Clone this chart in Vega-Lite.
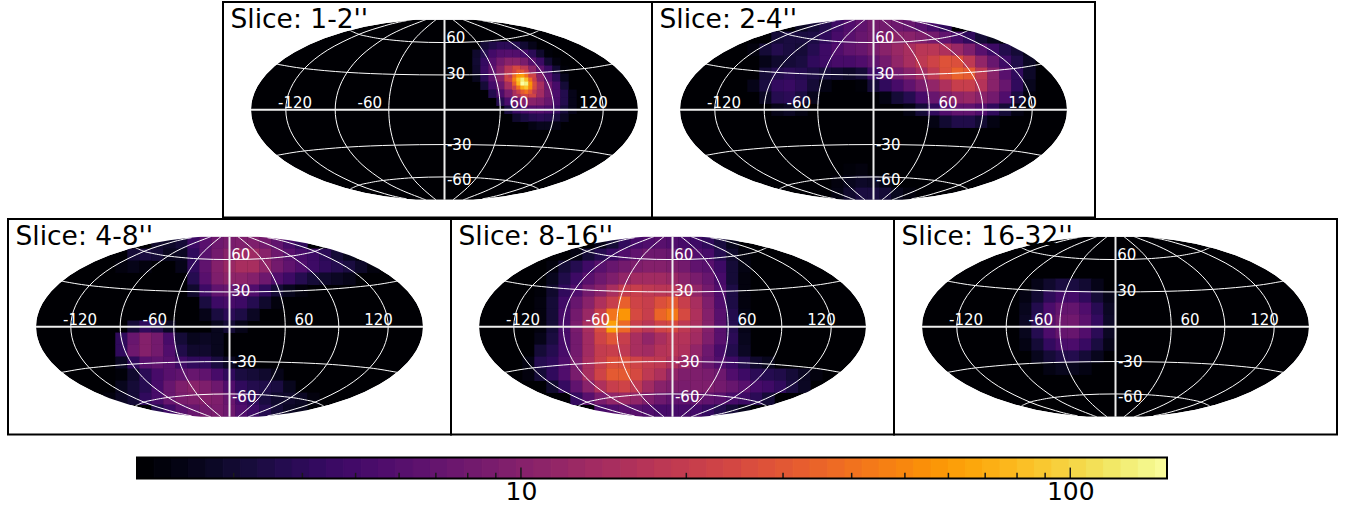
{"$schema":"https://vega.github.io/schema/vega-lite/v6.json","padding":{"left":7,"top":1,"right":0,"bottom":0},"background":"white","config":{"view":{"stroke":null}},
"datasets":{
"outline":[{"x":-219,"t":0,"b":0,"u":105,"l":-105},{"x":-193.5,"t":0,"b":0,"u":105,"l":-105},{"x":-193,"t":6.6,"b":-6.6,"u":105,"l":-105},{"x":-192,"t":11.3,"b":-11.3,"u":105,"l":-105},{"x":-190,"t":17.2,"b":-17.2,"u":105,"l":-105},{"x":-187,"t":23.4,"b":-23.4,"u":105,"l":-105},{"x":-183,"t":29.6,"b":-29.6,"u":105,"l":-105},{"x":-178,"t":35.7,"b":-35.7,"u":105,"l":-105},{"x":-170,"t":43.5,"b":-43.5,"u":105,"l":-105},{"x":-160,"t":51.2,"b":-51.2,"u":105,"l":-105},{"x":-150,"t":57.5,"b":-57.5,"u":105,"l":-105},{"x":-135,"t":65.2,"b":-65.2,"u":105,"l":-105},{"x":-120,"t":71.4,"b":-71.4,"u":105,"l":-105},{"x":-100,"t":77.9,"b":-77.9,"u":105,"l":-105},{"x":-80,"t":82.9,"b":-82.9,"u":105,"l":-105},{"x":-60,"t":86.5,"b":-86.5,"u":105,"l":-105},{"x":-40,"t":89,"b":-89,"u":105,"l":-105},{"x":-28.6,"t":90,"b":-90,"u":105,"l":-105},{"x":28.6,"t":90,"b":-90,"u":105,"l":-105},{"x":40,"t":89,"b":-89,"u":105,"l":-105},{"x":60,"t":86.5,"b":-86.5,"u":105,"l":-105},{"x":80,"t":82.9,"b":-82.9,"u":105,"l":-105},{"x":100,"t":77.9,"b":-77.9,"u":105,"l":-105},{"x":120,"t":71.4,"b":-71.4,"u":105,"l":-105},{"x":135,"t":65.2,"b":-65.2,"u":105,"l":-105},{"x":150,"t":57.5,"b":-57.5,"u":105,"l":-105},{"x":160,"t":51.2,"b":-51.2,"u":105,"l":-105},{"x":170,"t":43.5,"b":-43.5,"u":105,"l":-105},{"x":178,"t":35.7,"b":-35.7,"u":105,"l":-105},{"x":183,"t":29.6,"b":-29.6,"u":105,"l":-105},{"x":187,"t":23.4,"b":-23.4,"u":105,"l":-105},{"x":190,"t":17.2,"b":-17.2,"u":105,"l":-105},{"x":192,"t":11.3,"b":-11.3,"u":105,"l":-105},{"x":193,"t":6.6,"b":-6.6,"u":105,"l":-105},{"x":193.5,"t":0,"b":0,"u":105,"l":-105},{"x":219,"t":0,"b":0,"u":105,"l":-105}],
"grid":[{"g":"a","x":8.5,"y":90},{"g":"a","x":12.5,"y":86.9},{"g":"a","x":23,"y":77.8},{"g":"a","x":32,"y":68},{"g":"a","x":42.5,"y":52.2},{"g":"a","x":49.9,"y":35.4},{"g":"a","x":54.3,"y":17.9},{"g":"a","x":55.7,"y":0},{"g":"a","x":54.3,"y":-17.9},{"g":"a","x":49.9,"y":-35.4},{"g":"a","x":42.5,"y":-52.2},{"g":"a","x":32,"y":-68},{"g":"a","x":23,"y":-77.8},{"g":"a","x":12.5,"y":-86.9},{"g":"a","x":8.5,"y":-90},
{"g":"b","x":-8.5,"y":90},{"g":"b","x":-12.5,"y":86.9},{"g":"b","x":-23,"y":77.8},{"g":"b","x":-32,"y":68},{"g":"b","x":-42.5,"y":52.2},{"g":"b","x":-49.9,"y":35.4},{"g":"b","x":-54.3,"y":17.9},{"g":"b","x":-55.7,"y":0},{"g":"b","x":-54.3,"y":-17.9},{"g":"b","x":-49.9,"y":-35.4},{"g":"b","x":-42.5,"y":-52.2},{"g":"b","x":-32,"y":-68},{"g":"b","x":-23,"y":-77.8},{"g":"b","x":-12.5,"y":-86.9},{"g":"b","x":-8.5,"y":-90},
{"g":"c","x":18.7,"y":90},{"g":"c","x":23.4,"y":88.3},{"g":"c","x":43.8,"y":80.1},{"g":"c","x":61.4,"y":70.7},{"g":"c","x":82.5,"y":54.8},{"g":"c","x":97.4,"y":37.4},{"g":"c","x":106.3,"y":19},{"g":"c","x":109.3,"y":0},{"g":"c","x":106.3,"y":-19},{"g":"c","x":97.4,"y":-37.4},{"g":"c","x":82.5,"y":-54.8},{"g":"c","x":61.4,"y":-70.7},{"g":"c","x":43.8,"y":-80.1},{"g":"c","x":23.4,"y":-88.3},{"g":"c","x":18.7,"y":-90},
{"g":"d","x":-18.7,"y":90},{"g":"d","x":-23.4,"y":88.3},{"g":"d","x":-43.8,"y":80.1},{"g":"d","x":-61.4,"y":70.7},{"g":"d","x":-82.5,"y":54.8},{"g":"d","x":-97.4,"y":37.4},{"g":"d","x":-106.3,"y":19},{"g":"d","x":-109.3,"y":0},{"g":"d","x":-106.3,"y":-19},{"g":"d","x":-97.4,"y":-37.4},{"g":"d","x":-82.5,"y":-54.8},{"g":"d","x":-61.4,"y":-70.7},{"g":"d","x":-43.8,"y":-80.1},{"g":"d","x":-23.4,"y":-88.3},{"g":"d","x":-18.7,"y":-90},
{"g":"e","x":38,"y":89},{"g":"e","x":46.1,"y":87.5},{"g":"e","x":60,"y":83.9},{"g":"e","x":85.5,"y":75.4},{"g":"e","x":117.1,"y":59.6},{"g":"e","x":140.1,"y":41.2},{"g":"e","x":154,"y":21},{"g":"e","x":158.7,"y":0},{"g":"e","x":154,"y":-21},{"g":"e","x":140.1,"y":-41.2},{"g":"e","x":117.1,"y":-59.6},{"g":"e","x":85.5,"y":-75.4},{"g":"e","x":60,"y":-83.9},{"g":"e","x":46.1,"y":-87.5},{"g":"e","x":38,"y":-89},
{"g":"f","x":-38,"y":89},{"g":"f","x":-46.1,"y":87.5},{"g":"f","x":-60,"y":83.9},{"g":"f","x":-85.5,"y":75.4},{"g":"f","x":-117.1,"y":59.6},{"g":"f","x":-140.1,"y":41.2},{"g":"f","x":-154,"y":21},{"g":"f","x":-158.7,"y":0},{"g":"f","x":-154,"y":-21},{"g":"f","x":-140.1,"y":-41.2},{"g":"f","x":-117.1,"y":-59.6},{"g":"f","x":-85.5,"y":-75.4},{"g":"f","x":-60,"y":-83.9},{"g":"f","x":-46.1,"y":-87.5},{"g":"f","x":-38,"y":-89},
{"g":"p","x":-168,"y":45.8},{"g":"p","x":-164.4,"y":45},{"g":"p","x":-140.1,"y":41.2},{"g":"p","x":-97.4,"y":37.4},{"g":"p","x":-49.9,"y":35.4},{"g":"p","x":0,"y":34.8},{"g":"p","x":49.9,"y":35.4},{"g":"p","x":97.4,"y":37.4},{"g":"p","x":140.1,"y":41.2},{"g":"p","x":164.4,"y":45},{"g":"p","x":168,"y":45.8},
{"g":"q","x":-168,"y":-45.8},{"g":"q","x":-164.4,"y":-45},{"g":"q","x":-140.1,"y":-41.2},{"g":"q","x":-97.4,"y":-37.4},{"g":"q","x":-49.9,"y":-35.4},{"g":"q","x":0,"y":-34.8},{"g":"q","x":49.9,"y":-35.4},{"g":"q","x":97.4,"y":-37.4},{"g":"q","x":140.1,"y":-41.2},{"g":"q","x":164.4,"y":-45},{"g":"q","x":168,"y":-45.8},
{"g":"r","x":-94,"y":79},{"g":"r","x":-85.5,"y":75.4},{"g":"r","x":-78.2,"y":73.6},{"g":"r","x":-61.4,"y":70.7},{"g":"r","x":-32,"y":68},{"g":"r","x":0,"y":67.2},{"g":"r","x":32,"y":68},{"g":"r","x":61.4,"y":70.7},{"g":"r","x":78.2,"y":73.6},{"g":"r","x":85.5,"y":75.4},{"g":"r","x":94,"y":79},
{"g":"s","x":-94,"y":-79},{"g":"s","x":-85.5,"y":-75.4},{"g":"s","x":-78.2,"y":-73.6},{"g":"s","x":-61.4,"y":-70.7},{"g":"s","x":-32,"y":-68},{"g":"s","x":0,"y":-67.2},{"g":"s","x":32,"y":-68},{"g":"s","x":61.4,"y":-70.7},{"g":"s","x":78.2,"y":-73.6},{"g":"s","x":85.5,"y":-75.4},{"g":"s","x":94,"y":-79}],
"axes":[{"g":"eq","x":-193.5,"y":0},{"g":"eq","x":193.5,"y":0},{"g":"cm","x":0,"y":-90},{"g":"cm","x":0,"y":90}],
"labels":[{"x":-149.5,"y":6.3,"t":"-120"},{"x":-74.7,"y":6.3,"t":"-60"},{"x":74.5,"y":6.3,"t":"60"},{"x":149,"y":6.3,"t":"120"},{"x":11.3,"y":71.5,"t":"60"},{"x":11.3,"y":35.7,"t":"30"},{"x":14.7,"y":-35,"t":"-30"},{"x":14.7,"y":-70.3,"t":"-60"}],
"a":[{"x":40,"y":64,"v":3},{"x":48,"y":64,"v":3.4},{"x":56,"y":64,"v":3.8},{"x":64,"y":64,"v":3.8},{"x":72,"y":64,"v":3.5},{"x":80,"y":64,"v":2.9},{"x":88,"y":64,"v":2.4},
{"x":32,"y":56,"v":2.8},{"x":40,"y":56,"v":3.6},{"x":48,"y":56,"v":4.8},{"x":56,"y":56,"v":5.6},{"x":64,"y":56,"v":5.8},{"x":72,"y":56,"v":5.6},{"x":80,"y":56,"v":4.9},{"x":88,"y":56,"v":3.8},{"x":96,"y":56,"v":2.8},{"x":104,"y":56,"v":2.1},
{"x":32,"y":48,"v":2.9},{"x":40,"y":48,"v":4.2},{"x":48,"y":48,"v":5.8},{"x":56,"y":48,"v":8},{"x":64,"y":48,"v":10},{"x":72,"y":48,"v":10},{"x":80,"y":48,"v":8.4},{"x":88,"y":48,"v":5.9},{"x":96,"y":48,"v":4.4},{"x":104,"y":48,"v":2.9},{"x":112,"y":48,"v":2.2},
{"x":32,"y":40,"v":2.8},{"x":40,"y":40,"v":4.4},{"x":48,"y":40,"v":6.4},{"x":56,"y":40,"v":10},{"x":64,"y":40,"v":17},{"x":72,"y":40,"v":24},{"x":80,"y":40,"v":18},{"x":88,"y":40,"v":10.5},{"x":96,"y":40,"v":6.4},{"x":104,"y":40,"v":4.4},{"x":112,"y":40,"v":2.9},{"x":120,"y":40,"v":2.1},
{"x":32,"y":32,"v":2.5},{"x":40,"y":32,"v":3.8},{"x":48,"y":32,"v":6},{"x":56,"y":32,"v":10},{"x":64,"y":32,"v":22},{"x":72,"y":32,"v":60},{"x":80,"y":32,"v":70},{"x":88,"y":32,"v":22},{"x":96,"y":32,"v":10},{"x":104,"y":32,"v":5.8},{"x":112,"y":32,"v":3.8},{"x":120,"y":32,"v":2.5},
{"x":40,"y":24,"v":3},{"x":48,"y":24,"v":4.8},{"x":56,"y":24,"v":7.5},{"x":64,"y":24,"v":14},{"x":72,"y":24,"v":40},{"x":80,"y":24,"v":80},{"x":88,"y":24,"v":40},{"x":96,"y":24,"v":14},{"x":104,"y":24,"v":7.5},{"x":112,"y":24,"v":5},{"x":120,"y":24,"v":3},
{"x":48,"y":16,"v":3.5},{"x":56,"y":16,"v":5.3},{"x":64,"y":16,"v":8.4},{"x":72,"y":16,"v":14},{"x":80,"y":16,"v":22},{"x":88,"y":16,"v":22},{"x":96,"y":16,"v":13},{"x":104,"y":16,"v":8},{"x":112,"y":16,"v":5.2},{"x":120,"y":16,"v":3.5},{"x":128,"y":16,"v":2.4},
{"x":56,"y":8,"v":3.6},{"x":64,"y":8,"v":5.2},{"x":72,"y":8,"v":7},{"x":80,"y":8,"v":9.5},{"x":88,"y":8,"v":10},{"x":96,"y":8,"v":9},{"x":104,"y":8,"v":7},{"x":112,"y":8,"v":5},{"x":120,"y":8,"v":3.5},{"x":128,"y":8,"v":2.4},
{"x":64,"y":0,"v":3.2},{"x":72,"y":0,"v":4.4},{"x":80,"y":0,"v":5.2},{"x":88,"y":0,"v":5.8},{"x":96,"y":0,"v":5.8},{"x":104,"y":0,"v":5.2},{"x":112,"y":0,"v":4.2},{"x":120,"y":0,"v":3.1},{"x":128,"y":0,"v":2.4},
{"x":72,"y":-8,"v":2.8},{"x":80,"y":-8,"v":3.2},{"x":88,"y":-8,"v":3.6},{"x":96,"y":-8,"v":3.8},{"x":104,"y":-8,"v":3.6},{"x":112,"y":-8,"v":3.2},{"x":120,"y":-8,"v":2.6},
{"x":88,"y":-16,"v":2.3},{"x":96,"y":-16,"v":2.5},{"x":104,"y":-16,"v":2.5},{"x":112,"y":-16,"v":2.3}],
"a2":[{"x":70,"y":38,"v":22},{"x":74,"y":38,"v":30},{"x":78,"y":38,"v":28},{"x":82,"y":38,"v":20},
{"x":66,"y":34,"v":18},{"x":70,"y":34,"v":35},{"x":74,"y":34,"v":55},{"x":78,"y":34,"v":60},{"x":82,"y":34,"v":40},{"x":86,"y":34,"v":22},
{"x":66,"y":30,"v":22},{"x":70,"y":30,"v":45},{"x":74,"y":30,"v":85},{"x":78,"y":30,"v":125},{"x":82,"y":30,"v":80},{"x":86,"y":30,"v":38},{"x":90,"y":30,"v":20},
{"x":70,"y":26,"v":32},{"x":74,"y":26,"v":75},{"x":78,"y":26,"v":150},{"x":82,"y":26,"v":130},{"x":86,"y":26,"v":55},{"x":90,"y":26,"v":25},
{"x":70,"y":22,"v":20},{"x":74,"y":22,"v":38},{"x":78,"y":22,"v":70},{"x":82,"y":22,"v":85},{"x":86,"y":22,"v":50},{"x":90,"y":22,"v":24},
{"x":74,"y":18,"v":20},{"x":78,"y":18,"v":30},{"x":82,"y":18,"v":38},{"x":86,"y":18,"v":28},{"x":90,"y":18,"v":18}],
"b":[{"x":-72,"y":84,"v":2.6},{"x":-60,"y":84,"v":3},{"x":-48,"y":84,"v":3.5},{"x":-36,"y":84,"v":4.5},{"x":-24,"y":84,"v":5.5},{"x":-12,"y":84,"v":6.5},{"x":0,"y":84,"v":8},{"x":12,"y":84,"v":8},{"x":24,"y":84,"v":7.5},{"x":36,"y":84,"v":7},{"x":48,"y":84,"v":6},{"x":60,"y":84,"v":5},{"x":72,"y":84,"v":4},
{"x":-96,"y":72,"v":3},{"x":-84,"y":72,"v":3.2},{"x":-72,"y":72,"v":3.2},{"x":-60,"y":72,"v":3.3},{"x":-48,"y":72,"v":4},{"x":-36,"y":72,"v":5},{"x":-24,"y":72,"v":6},{"x":-12,"y":72,"v":7},{"x":0,"y":72,"v":8},{"x":12,"y":72,"v":9},{"x":24,"y":72,"v":10},{"x":36,"y":72,"v":10},{"x":48,"y":72,"v":9},{"x":60,"y":72,"v":8},{"x":72,"y":72,"v":6.5},{"x":84,"y":72,"v":5},{"x":96,"y":72,"v":4},{"x":108,"y":72,"v":3},{"x":120,"y":72,"v":2.5},
{"x":-120,"y":60,"v":2.2},{"x":-108,"y":60,"v":3},{"x":-96,"y":60,"v":3.5},{"x":-84,"y":60,"v":3.2},{"x":-72,"y":60,"v":3},{"x":-60,"y":60,"v":3.6},{"x":-48,"y":60,"v":4.5},{"x":-36,"y":60,"v":5.5},{"x":-24,"y":60,"v":6.5},{"x":-12,"y":60,"v":7},{"x":0,"y":60,"v":8.5},{"x":12,"y":60,"v":10},{"x":24,"y":60,"v":12},{"x":36,"y":60,"v":14},{"x":48,"y":60,"v":17},{"x":60,"y":60,"v":17},{"x":72,"y":60,"v":15},{"x":84,"y":60,"v":12},{"x":96,"y":60,"v":9},{"x":108,"y":60,"v":6},{"x":120,"y":60,"v":4.5},{"x":132,"y":60,"v":3.5},{"x":144,"y":60,"v":3},{"x":156,"y":60,"v":2.4},
{"x":-108,"y":48,"v":2.4},{"x":-96,"y":48,"v":2.8},{"x":-84,"y":48,"v":3},{"x":-72,"y":48,"v":3.2},{"x":-60,"y":48,"v":4},{"x":-48,"y":48,"v":4.5},{"x":-36,"y":48,"v":5},{"x":-24,"y":48,"v":5},{"x":-12,"y":48,"v":5.5},{"x":0,"y":48,"v":6.5},{"x":12,"y":48,"v":8},{"x":24,"y":48,"v":11},{"x":36,"y":48,"v":14},{"x":48,"y":48,"v":18},{"x":60,"y":48,"v":22},{"x":72,"y":48,"v":27},{"x":84,"y":48,"v":26},{"x":96,"y":48,"v":18},{"x":108,"y":48,"v":11},{"x":120,"y":48,"v":7},{"x":132,"y":48,"v":4.5},{"x":144,"y":48,"v":3.4},{"x":156,"y":48,"v":2.6},
{"x":-108,"y":36,"v":3},{"x":-96,"y":36,"v":3.5},{"x":-84,"y":36,"v":3.8},{"x":-72,"y":36,"v":3.6},{"x":-60,"y":36,"v":3.3},{"x":-48,"y":36,"v":3.1},{"x":-36,"y":36,"v":2.9},{"x":-24,"y":36,"v":2.7},{"x":-12,"y":36,"v":3},{"x":0,"y":36,"v":4.5},{"x":12,"y":36,"v":6},{"x":24,"y":36,"v":8},{"x":36,"y":36,"v":10},{"x":48,"y":36,"v":13},{"x":60,"y":36,"v":18},{"x":72,"y":36,"v":26},{"x":84,"y":36,"v":33},{"x":96,"y":36,"v":30},{"x":108,"y":36,"v":18},{"x":120,"y":36,"v":10},{"x":132,"y":36,"v":6},{"x":144,"y":36,"v":4},{"x":156,"y":36,"v":2.7},
{"x":-120,"y":24,"v":2.4},{"x":-108,"y":24,"v":3.2},{"x":-96,"y":24,"v":4.1},{"x":-84,"y":24,"v":4.3},{"x":-72,"y":24,"v":3.8},{"x":-60,"y":24,"v":3},{"x":-48,"y":24,"v":2.3},{"x":-12,"y":24,"v":2.1},{"x":0,"y":24,"v":3},{"x":12,"y":24,"v":4},{"x":24,"y":24,"v":5},{"x":36,"y":24,"v":6.5},{"x":48,"y":24,"v":8.5},{"x":60,"y":24,"v":11},{"x":72,"y":24,"v":15},{"x":84,"y":24,"v":20},{"x":96,"y":24,"v":20},{"x":108,"y":24,"v":16},{"x":120,"y":24,"v":10},{"x":132,"y":24,"v":7},{"x":144,"y":24,"v":4},{"x":156,"y":24,"v":2.5},
{"x":-108,"y":12,"v":2.6},{"x":-96,"y":12,"v":3.6},{"x":-84,"y":12,"v":3.8},{"x":-72,"y":12,"v":3.2},{"x":-60,"y":12,"v":2.5},{"x":12,"y":12,"v":2.3},{"x":24,"y":12,"v":3},{"x":36,"y":12,"v":3.6},{"x":48,"y":12,"v":5},{"x":60,"y":12,"v":7},{"x":72,"y":12,"v":9},{"x":84,"y":12,"v":11},{"x":96,"y":12,"v":12},{"x":108,"y":12,"v":10},{"x":120,"y":12,"v":8},{"x":132,"y":12,"v":5.5},{"x":144,"y":12,"v":3.2},{"x":156,"y":12,"v":2.2},
{"x":-96,"y":0,"v":2.4},{"x":-84,"y":0,"v":2.6},{"x":-72,"y":0,"v":2.3},{"x":36,"y":0,"v":2.3},{"x":48,"y":0,"v":3},{"x":60,"y":0,"v":4},{"x":72,"y":0,"v":5.5},{"x":84,"y":0,"v":6.5},{"x":96,"y":0,"v":6.5},{"x":108,"y":0,"v":5.5},{"x":120,"y":0,"v":4},{"x":132,"y":0,"v":3},{"x":144,"y":0,"v":2.3},
{"x":60,"y":-12,"v":2.3},{"x":72,"y":-12,"v":2.9},{"x":84,"y":-12,"v":3.4},{"x":96,"y":-12,"v":3.4},{"x":108,"y":-12,"v":2.9},{"x":120,"y":-12,"v":2.3},
{"x":-24,"y":-60,"v":2.1},{"x":-12,"y":-60,"v":2.2},{"x":-36,"y":-72,"v":2.2},{"x":-24,"y":-72,"v":2.5},{"x":-12,"y":-72,"v":2.7},{"x":0,"y":-72,"v":2.6},{"x":12,"y":-72,"v":2.3},{"x":-36,"y":-84,"v":2.3},{"x":-24,"y":-84,"v":2.8},{"x":-12,"y":-84,"v":3.2},{"x":0,"y":-84,"v":3.2},{"x":12,"y":-84,"v":3},{"x":24,"y":-84,"v":2.5},{"x":36,"y":-84,"v":2.2}],
"c":[{"x":-72,"y":84,"v":2.8},{"x":-60,"y":84,"v":2.7},{"x":-48,"y":84,"v":3},{"x":-36,"y":84,"v":4.5},{"x":-24,"y":84,"v":6},{"x":-12,"y":84,"v":7.5},{"x":0,"y":84,"v":8.5},{"x":12,"y":84,"v":9},{"x":24,"y":84,"v":9},{"x":36,"y":84,"v":8},{"x":48,"y":84,"v":6.5},{"x":60,"y":84,"v":5},{"x":72,"y":84,"v":4},
{"x":-96,"y":72,"v":3},{"x":-84,"y":72,"v":3.2},{"x":-72,"y":72,"v":3},{"x":-60,"y":72,"v":2.5},{"x":-48,"y":72,"v":2.6},{"x":-36,"y":72,"v":4},{"x":-24,"y":72,"v":6},{"x":-12,"y":72,"v":8},{"x":0,"y":72,"v":10},{"x":12,"y":72,"v":12.5},{"x":24,"y":72,"v":12.5},{"x":36,"y":72,"v":10},{"x":48,"y":72,"v":7.5},{"x":60,"y":72,"v":6},{"x":72,"y":72,"v":5},{"x":84,"y":72,"v":4.5},{"x":96,"y":72,"v":3.8},{"x":108,"y":72,"v":3},{"x":120,"y":72,"v":2.5},
{"x":-108,"y":60,"v":2.2},{"x":-96,"y":60,"v":2.4},{"x":-84,"y":60,"v":2.2},{"x":-48,"y":60,"v":2.4},{"x":-36,"y":60,"v":4},{"x":-24,"y":60,"v":6.5},{"x":-12,"y":60,"v":9.5},{"x":0,"y":60,"v":12},{"x":12,"y":60,"v":14},{"x":24,"y":60,"v":14},{"x":36,"y":60,"v":11},{"x":48,"y":60,"v":8},{"x":60,"y":60,"v":6.5},{"x":72,"y":60,"v":5.5},{"x":84,"y":60,"v":4.5},{"x":96,"y":60,"v":4},{"x":108,"y":60,"v":3.6},{"x":120,"y":60,"v":3.2},{"x":132,"y":60,"v":2.7},{"x":144,"y":60,"v":2.2},
{"x":-36,"y":48,"v":3.6},{"x":-24,"y":48,"v":6},{"x":-12,"y":48,"v":9},{"x":0,"y":48,"v":10.5},{"x":12,"y":48,"v":10.5},{"x":24,"y":48,"v":9.5},{"x":36,"y":48,"v":7.5},{"x":48,"y":48,"v":5.5},{"x":60,"y":48,"v":4.5},{"x":72,"y":48,"v":3.6},{"x":84,"y":48,"v":3},{"x":96,"y":48,"v":2.8},{"x":108,"y":48,"v":2.6},{"x":120,"y":48,"v":2.4},
{"x":-36,"y":36,"v":2.8},{"x":-24,"y":36,"v":4.5},{"x":-12,"y":36,"v":6.5},{"x":0,"y":36,"v":7},{"x":12,"y":36,"v":6.5},{"x":24,"y":36,"v":5.5},{"x":36,"y":36,"v":4},{"x":48,"y":36,"v":3},{"x":60,"y":36,"v":2.5},{"x":72,"y":36,"v":2.2},
{"x":-24,"y":24,"v":3.2},{"x":-12,"y":24,"v":4.5},{"x":0,"y":24,"v":5},{"x":12,"y":24,"v":4.5},{"x":24,"y":24,"v":3.6},{"x":36,"y":24,"v":2.8},{"x":48,"y":24,"v":2.2},
{"x":-24,"y":12,"v":2.4},{"x":-12,"y":12,"v":3.2},{"x":0,"y":12,"v":3.8},{"x":12,"y":12,"v":3.3},{"x":24,"y":12,"v":2.6},
{"x":-96,"y":0,"v":3},{"x":-84,"y":0,"v":4},{"x":-72,"y":0,"v":3.5},{"x":-60,"y":0,"v":2.6},{"x":-12,"y":0,"v":2.5},{"x":0,"y":0,"v":3},{"x":12,"y":0,"v":2.4},
{"x":-108,"y":-12,"v":4},{"x":-96,"y":-12,"v":7},{"x":-84,"y":-12,"v":9.5},{"x":-72,"y":-12,"v":8},{"x":-60,"y":-12,"v":5},{"x":-48,"y":-12,"v":3},{"x":-36,"y":-12,"v":2.5},{"x":-24,"y":-12,"v":2.6},{"x":-12,"y":-12,"v":2.5},
{"x":-108,"y":-24,"v":4},{"x":-96,"y":-24,"v":7.5},{"x":-84,"y":-24,"v":9.5},{"x":-72,"y":-24,"v":8},{"x":-60,"y":-24,"v":5.5},{"x":-48,"y":-24,"v":3.4},{"x":-36,"y":-24,"v":2.8},{"x":-24,"y":-24,"v":2.8},{"x":-12,"y":-24,"v":2.5},
{"x":-108,"y":-36,"v":2.6},{"x":-96,"y":-36,"v":4},{"x":-84,"y":-36,"v":6},{"x":-72,"y":-36,"v":6.5},{"x":-60,"y":-36,"v":6},{"x":-48,"y":-36,"v":4.6},{"x":-36,"y":-36,"v":4},{"x":-24,"y":-36,"v":4},{"x":-12,"y":-36,"v":3.2},{"x":0,"y":-36,"v":2.6},{"x":12,"y":-36,"v":2.2},
{"x":-108,"y":-48,"v":2.1},{"x":-96,"y":-48,"v":2.8},{"x":-84,"y":-48,"v":3.8},{"x":-72,"y":-48,"v":5},{"x":-60,"y":-48,"v":6},{"x":-48,"y":-48,"v":6.5},{"x":-36,"y":-48,"v":7},{"x":-24,"y":-48,"v":6.5},{"x":-12,"y":-48,"v":5},{"x":0,"y":-48,"v":4},{"x":12,"y":-48,"v":3.2},{"x":24,"y":-48,"v":3},{"x":36,"y":-48,"v":2.8},{"x":48,"y":-48,"v":2.4},
{"x":-108,"y":-60,"v":2.5},{"x":-96,"y":-60,"v":3},{"x":-84,"y":-60,"v":3.6},{"x":-72,"y":-60,"v":5},{"x":-60,"y":-60,"v":7},{"x":-48,"y":-60,"v":9},{"x":-36,"y":-60,"v":10},{"x":-24,"y":-60,"v":9},{"x":-12,"y":-60,"v":7.5},{"x":0,"y":-60,"v":5.5},{"x":12,"y":-60,"v":4},{"x":24,"y":-60,"v":3.5},{"x":36,"y":-60,"v":3.4},{"x":48,"y":-60,"v":3.2},{"x":60,"y":-60,"v":2.5},
{"x":-120,"y":-72,"v":2.2},{"x":-108,"y":-72,"v":2.6},{"x":-96,"y":-72,"v":3},{"x":-84,"y":-72,"v":4},{"x":-72,"y":-72,"v":5},{"x":-60,"y":-72,"v":7},{"x":-48,"y":-72,"v":8.5},{"x":-36,"y":-72,"v":9},{"x":-24,"y":-72,"v":9.5},{"x":-12,"y":-72,"v":9},{"x":0,"y":-72,"v":7},{"x":12,"y":-72,"v":5},{"x":24,"y":-72,"v":4},{"x":36,"y":-72,"v":3.2},{"x":48,"y":-72,"v":2.8},{"x":60,"y":-72,"v":2.8},{"x":72,"y":-72,"v":2.6},{"x":84,"y":-72,"v":2.2},
{"x":-72,"y":-84,"v":3.5},{"x":-60,"y":-84,"v":4.6},{"x":-48,"y":-84,"v":6},{"x":-36,"y":-84,"v":7},{"x":-24,"y":-84,"v":8},{"x":-12,"y":-84,"v":8.5},{"x":0,"y":-84,"v":7.5},{"x":12,"y":-84,"v":5.5},{"x":24,"y":-84,"v":4.5},{"x":36,"y":-84,"v":3.6},{"x":48,"y":-84,"v":3},{"x":60,"y":-84,"v":2.6},{"x":72,"y":-84,"v":2.5}],
"d":[{"x":-72,"y":84,"v":2.4},{"x":-60,"y":84,"v":3},{"x":-48,"y":84,"v":4},{"x":-36,"y":84,"v":5},{"x":-24,"y":84,"v":5.5},{"x":-12,"y":84,"v":6},{"x":0,"y":84,"v":5.5},{"x":12,"y":84,"v":5},{"x":24,"y":84,"v":4.5},{"x":36,"y":84,"v":4},{"x":48,"y":84,"v":3.2},{"x":60,"y":84,"v":2.5},
{"x":-96,"y":72,"v":2.3},{"x":-84,"y":72,"v":3},{"x":-72,"y":72,"v":3.6},{"x":-60,"y":72,"v":4.4},{"x":-48,"y":72,"v":5.5},{"x":-36,"y":72,"v":6.5},{"x":-24,"y":72,"v":7.5},{"x":-12,"y":72,"v":7.5},{"x":0,"y":72,"v":7},{"x":12,"y":72,"v":6.5},{"x":24,"y":72,"v":5.5},{"x":36,"y":72,"v":5},{"x":48,"y":72,"v":3.6},{"x":60,"y":72,"v":2.8},{"x":72,"y":72,"v":2.2},
{"x":-120,"y":60,"v":2.2},{"x":-108,"y":60,"v":3},{"x":-96,"y":60,"v":3.6},{"x":-84,"y":60,"v":4.6},{"x":-72,"y":60,"v":6},{"x":-60,"y":60,"v":7},{"x":-48,"y":60,"v":8},{"x":-36,"y":60,"v":9},{"x":-24,"y":60,"v":9.5},{"x":-12,"y":60,"v":9.5},{"x":0,"y":60,"v":9},{"x":12,"y":60,"v":8},{"x":24,"y":60,"v":6.5},{"x":36,"y":60,"v":6},{"x":48,"y":60,"v":4.5},{"x":60,"y":60,"v":3},{"x":72,"y":60,"v":2.3},
{"x":-120,"y":48,"v":2.5},{"x":-108,"y":48,"v":3.4},{"x":-96,"y":48,"v":4.5},{"x":-84,"y":48,"v":6},{"x":-72,"y":48,"v":7.5},{"x":-60,"y":48,"v":9},{"x":-48,"y":48,"v":11},{"x":-36,"y":48,"v":13},{"x":-24,"y":48,"v":13},{"x":-12,"y":48,"v":13},{"x":0,"y":48,"v":12},{"x":12,"y":48,"v":10},{"x":24,"y":48,"v":8.5},{"x":36,"y":48,"v":7},{"x":48,"y":48,"v":5},{"x":60,"y":48,"v":3},{"x":72,"y":48,"v":2.2},
{"x":-132,"y":36,"v":2.1},{"x":-120,"y":36,"v":2.8},{"x":-108,"y":36,"v":4},{"x":-96,"y":36,"v":5.5},{"x":-84,"y":36,"v":8},{"x":-72,"y":36,"v":10},{"x":-60,"y":36,"v":14},{"x":-48,"y":36,"v":19},{"x":-36,"y":36,"v":20},{"x":-24,"y":36,"v":18},{"x":-12,"y":36,"v":17},{"x":0,"y":36,"v":17},{"x":12,"y":36,"v":14},{"x":24,"y":36,"v":11},{"x":36,"y":36,"v":8},{"x":48,"y":36,"v":5.5},{"x":60,"y":36,"v":3.3},{"x":72,"y":36,"v":2.2},
{"x":-132,"y":24,"v":2.2},{"x":-120,"y":24,"v":3},{"x":-108,"y":24,"v":4.6},{"x":-96,"y":24,"v":7},{"x":-84,"y":24,"v":10},{"x":-72,"y":24,"v":15},{"x":-60,"y":24,"v":20},{"x":-48,"y":24,"v":32},{"x":-36,"y":24,"v":22},{"x":-24,"y":24,"v":20},{"x":-12,"y":24,"v":26},{"x":0,"y":24,"v":30},{"x":12,"y":24,"v":20},{"x":24,"y":24,"v":14},{"x":36,"y":24,"v":9},{"x":48,"y":24,"v":5.5},{"x":60,"y":24,"v":3.3},{"x":72,"y":24,"v":2.2},
{"x":-132,"y":12,"v":2.2},{"x":-120,"y":12,"v":3},{"x":-108,"y":12,"v":5},{"x":-96,"y":12,"v":8},{"x":-84,"y":12,"v":12},{"x":-72,"y":12,"v":20},{"x":-60,"y":12,"v":40},{"x":-48,"y":12,"v":55},{"x":-36,"y":12,"v":24},{"x":-24,"y":12,"v":20},{"x":-12,"y":12,"v":34},{"x":0,"y":12,"v":42},{"x":12,"y":12,"v":24},{"x":24,"y":12,"v":15},{"x":36,"y":12,"v":9.5},{"x":48,"y":12,"v":6},{"x":60,"y":12,"v":3.5},{"x":72,"y":12,"v":2.3},
{"x":-132,"y":0,"v":2.2},{"x":-120,"y":0,"v":3},{"x":-108,"y":0,"v":5},{"x":-96,"y":0,"v":8.5},{"x":-84,"y":0,"v":14},{"x":-72,"y":0,"v":25},{"x":-60,"y":0,"v":60},{"x":-48,"y":0,"v":35},{"x":-36,"y":0,"v":20},{"x":-24,"y":0,"v":17},{"x":-12,"y":0,"v":22},{"x":0,"y":0,"v":24},{"x":12,"y":0,"v":18},{"x":24,"y":0,"v":14},{"x":36,"y":0,"v":9.5},{"x":48,"y":0,"v":6},{"x":60,"y":0,"v":3.6},{"x":72,"y":0,"v":2.4},
{"x":-132,"y":-12,"v":2.4},{"x":-120,"y":-12,"v":3.2},{"x":-108,"y":-12,"v":5},{"x":-96,"y":-12,"v":8},{"x":-84,"y":-12,"v":13},{"x":-72,"y":-12,"v":22},{"x":-60,"y":-12,"v":28},{"x":-48,"y":-12,"v":20},{"x":-36,"y":-12,"v":14},{"x":-24,"y":-12,"v":11},{"x":-12,"y":-12,"v":14},{"x":0,"y":-12,"v":17},{"x":12,"y":-12,"v":16},{"x":24,"y":-12,"v":13},{"x":36,"y":-12,"v":9},{"x":48,"y":-12,"v":6},{"x":60,"y":-12,"v":3.8},{"x":72,"y":-12,"v":2.5},
{"x":-132,"y":-24,"v":3},{"x":-120,"y":-24,"v":3.6},{"x":-108,"y":-24,"v":5},{"x":-96,"y":-24,"v":8},{"x":-84,"y":-24,"v":13},{"x":-72,"y":-24,"v":19},{"x":-60,"y":-24,"v":20},{"x":-48,"y":-24,"v":18},{"x":-36,"y":-24,"v":14},{"x":-24,"y":-24,"v":13},{"x":-12,"y":-24,"v":16},{"x":0,"y":-24,"v":17},{"x":12,"y":-24,"v":15},{"x":24,"y":-24,"v":11},{"x":36,"y":-24,"v":7.5},{"x":48,"y":-24,"v":5},{"x":60,"y":-24,"v":3.5},{"x":72,"y":-24,"v":2.6},
{"x":-144,"y":-36,"v":2.3},{"x":-132,"y":-36,"v":3.6},{"x":-120,"y":-36,"v":4},{"x":-108,"y":-36,"v":5.5},{"x":-96,"y":-36,"v":8.5},{"x":-84,"y":-36,"v":14},{"x":-72,"y":-36,"v":20},{"x":-60,"y":-36,"v":26},{"x":-48,"y":-36,"v":26},{"x":-36,"y":-36,"v":22},{"x":-24,"y":-36,"v":19},{"x":-12,"y":-36,"v":18},{"x":0,"y":-36,"v":15},{"x":12,"y":-36,"v":12},{"x":24,"y":-36,"v":9},{"x":36,"y":-36,"v":7},{"x":48,"y":-36,"v":5.5},{"x":60,"y":-36,"v":4.5},{"x":72,"y":-36,"v":3.5},{"x":84,"y":-36,"v":2.8},{"x":96,"y":-36,"v":2.5},
{"x":-144,"y":-48,"v":2.2},{"x":-132,"y":-48,"v":3},{"x":-120,"y":-48,"v":4},{"x":-108,"y":-48,"v":5.5},{"x":-96,"y":-48,"v":8.5},{"x":-84,"y":-48,"v":14},{"x":-72,"y":-48,"v":22},{"x":-60,"y":-48,"v":30},{"x":-48,"y":-48,"v":30},{"x":-36,"y":-48,"v":24},{"x":-24,"y":-48,"v":18},{"x":-12,"y":-48,"v":15},{"x":0,"y":-48,"v":11},{"x":12,"y":-48,"v":9},{"x":24,"y":-48,"v":9},{"x":36,"y":-48,"v":8.5},{"x":48,"y":-48,"v":7.5},{"x":60,"y":-48,"v":5.5},{"x":72,"y":-48,"v":4.5},{"x":84,"y":-48,"v":3.8},{"x":96,"y":-48,"v":3.6},{"x":108,"y":-48,"v":3.4},{"x":120,"y":-48,"v":3},{"x":132,"y":-48,"v":2.6},{"x":144,"y":-48,"v":2.2},
{"x":-120,"y":-60,"v":2.8},{"x":-108,"y":-60,"v":4.2},{"x":-96,"y":-60,"v":6.5},{"x":-84,"y":-60,"v":10},{"x":-72,"y":-60,"v":15},{"x":-60,"y":-60,"v":20},{"x":-48,"y":-60,"v":22},{"x":-36,"y":-60,"v":18},{"x":-24,"y":-60,"v":13},{"x":-12,"y":-60,"v":10},{"x":0,"y":-60,"v":9},{"x":12,"y":-60,"v":8.5},{"x":24,"y":-60,"v":9},{"x":36,"y":-60,"v":9},{"x":48,"y":-60,"v":8},{"x":60,"y":-60,"v":7},{"x":72,"y":-60,"v":6},{"x":84,"y":-60,"v":5},{"x":96,"y":-60,"v":4.6},{"x":108,"y":-60,"v":4},{"x":120,"y":-60,"v":3.2},{"x":132,"y":-60,"v":2.6},
{"x":-96,"y":-72,"v":4.2},{"x":-84,"y":-72,"v":6},{"x":-72,"y":-72,"v":8.5},{"x":-60,"y":-72,"v":11},{"x":-48,"y":-72,"v":12},{"x":-36,"y":-72,"v":11},{"x":-24,"y":-72,"v":9},{"x":-12,"y":-72,"v":7.5},{"x":0,"y":-72,"v":6.5},{"x":12,"y":-72,"v":6.5},{"x":24,"y":-72,"v":7},{"x":36,"y":-72,"v":6.5},{"x":48,"y":-72,"v":6},{"x":60,"y":-72,"v":5},{"x":72,"y":-72,"v":4.5},{"x":84,"y":-72,"v":3.8},{"x":96,"y":-72,"v":3},
{"x":-72,"y":-84,"v":5},{"x":-60,"y":-84,"v":5.5},{"x":-48,"y":-84,"v":6},{"x":-36,"y":-84,"v":6},{"x":-24,"y":-84,"v":5.5},{"x":-12,"y":-84,"v":5},{"x":0,"y":-84,"v":5},{"x":12,"y":-84,"v":5},{"x":24,"y":-84,"v":4.8},{"x":36,"y":-84,"v":4.2},{"x":48,"y":-84,"v":3.5},{"x":60,"y":-84,"v":3},{"x":72,"y":-84,"v":2.5}],
"e":[{"x":-78,"y":42,"v":2.4},{"x":-66,"y":42,"v":2.8},{"x":-54,"y":42,"v":3.2},{"x":-42,"y":42,"v":3.2},{"x":-30,"y":42,"v":2.9},{"x":-18,"y":42,"v":2.4},
{"x":-90,"y":30,"v":2.3},{"x":-78,"y":30,"v":2.9},{"x":-66,"y":30,"v":3.9},{"x":-54,"y":30,"v":4.8},{"x":-42,"y":30,"v":4.9},{"x":-30,"y":30,"v":4},{"x":-18,"y":30,"v":3},{"x":-6,"y":30,"v":2.4},
{"x":-90,"y":18,"v":2.5},{"x":-78,"y":18,"v":3.5},{"x":-66,"y":18,"v":5.2},{"x":-54,"y":18,"v":6.7},{"x":-42,"y":18,"v":6.8},{"x":-30,"y":18,"v":5.4},{"x":-18,"y":18,"v":3.7},{"x":-6,"y":18,"v":2.6},
{"x":-90,"y":6,"v":2.6},{"x":-78,"y":6,"v":3.8},{"x":-66,"y":6,"v":5.8},{"x":-54,"y":6,"v":7.6},{"x":-42,"y":6,"v":7.8},{"x":-30,"y":6,"v":6.1},{"x":-18,"y":6,"v":4.1},{"x":-6,"y":6,"v":2.7},
{"x":-90,"y":-6,"v":2.5},{"x":-78,"y":-6,"v":3.6},{"x":-66,"y":-6,"v":5.3},{"x":-54,"y":-6,"v":6.9},{"x":-42,"y":-6,"v":7},{"x":-30,"y":-6,"v":5.6},{"x":-18,"y":-6,"v":3.8},{"x":-6,"y":-6,"v":2.6},
{"x":-90,"y":-18,"v":2.3},{"x":-78,"y":-18,"v":3},{"x":-66,"y":-18,"v":4.1},{"x":-54,"y":-18,"v":5.1},{"x":-42,"y":-18,"v":5.2},{"x":-30,"y":-18,"v":4.3},{"x":-18,"y":-18,"v":3.2},{"x":-6,"y":-18,"v":2.4},
{"x":-78,"y":-30,"v":2.5},{"x":-66,"y":-30,"v":3},{"x":-54,"y":-30,"v":3.4},{"x":-42,"y":-30,"v":3.5},{"x":-30,"y":-30,"v":3},{"x":-18,"y":-30,"v":2.5},
{"x":-66,"y":-42,"v":2.3},{"x":-54,"y":-42,"v":2.5},{"x":-42,"y":-42,"v":2.5},{"x":-30,"y":-42,"v":2.3}],
"bar":[{"a":2,"b":2.15},{"a":2.15,"b":2.31},{"a":2.31,"b":2.48},{"a":2.48,"b":2.67},{"a":2.67,"b":2.87},{"a":2.87,"b":3.09},{"a":3.09,"b":3.32},{"a":3.32,"b":3.57},{"a":3.57,"b":3.83},{"a":3.83,"b":4.12},{"a":4.12,"b":4.43},{"a":4.43,"b":4.76},{"a":4.76,"b":5.12},{"a":5.12,"b":5.5},{"a":5.5,"b":5.92},{"a":5.92,"b":6.36},{"a":6.36,"b":6.84},{"a":6.84,"b":7.35},{"a":7.35,"b":7.9},{"a":7.9,"b":8.5},{"a":8.5,"b":9.13},{"a":9.13,"b":9.82},{"a":9.82,"b":10.56},{"a":10.56,"b":11.35},{"a":11.35,"b":12.2},{"a":12.2,"b":13.1},{"a":13.1,"b":14.1},{"a":14.1,"b":15.2},{"a":15.2,"b":16.3},{"a":16.3,"b":17.5},{"a":17.5,"b":18.8},{"a":18.8,"b":20.3},{"a":20.3,"b":21.8},{"a":21.8,"b":23.4},{"a":23.4,"b":25.2},{"a":25.2,"b":27.1},{"a":27.1,"b":29.1},{"a":29.1,"b":31.3},{"a":31.3,"b":33.6},{"a":33.6,"b":36.2},{"a":36.2,"b":38.9},{"a":38.9,"b":41.8},{"a":41.8,"b":44.9},{"a":44.9,"b":48.3},{"a":48.3,"b":51.9},{"a":51.9,"b":55.8},{"a":55.8,"b":60},{"a":60,"b":64.5},{"a":64.5,"b":69.3},{"a":69.3,"b":74.5},{"a":74.5,"b":80.1},{"a":80.1,"b":86.1},{"a":86.1,"b":92.6},{"a":92.6,"b":99.5},{"a":99.5,"b":107},{"a":107,"b":115},{"a":115,"b":123.7},{"a":123.7,"b":133},{"a":133,"b":143},{"a":143,"b":150}],
"ticks":[{"t":3,"z":0,"l":0.27},{"t":4,"z":0,"l":0.27},{"t":5,"z":0,"l":0.27},{"t":6,"z":0,"l":0.27},{"t":7,"z":0,"l":0.27},{"t":8,"z":0,"l":0.27},{"t":9,"z":0,"l":0.27},{"t":10,"z":0,"l":0.52},{"t":20,"z":0,"l":0.27},{"t":30,"z":0,"l":0.27},{"t":40,"z":0,"l":0.27},{"t":50,"z":0,"l":0.27},{"t":60,"z":0,"l":0.27},{"t":70,"z":0,"l":0.27},{"t":80,"z":0,"l":0.27},{"t":90,"z":0,"l":0.27},{"t":100,"z":0,"l":0.52}]
},
"vconcat":[{"vconcat":[
{"hconcat":[
{"width":215,"height":1,"data":{"values":[{"x":0}]},"mark":{"type":"point","opacity":0,"size":1,"filled":true},"encoding":{"x":{"field":"x","type":"quantitative","axis":null}}},
{"width":429,"height":215.5,"view":{"stroke":"black","strokeWidth":2},"encoding":{"x":{"field":"x","type":"quantitative","scale":{"domain":[-221.5,207.5]},"axis":null},"y":{"field":"y","type":"quantitative","scale":{"domain":[-107.75,107.75]},"axis":null}},"layer":[
{"data":{"name":"outline"},"mark":{"type":"area","fill":"#000004"},"encoding":{"y":{"field":"t","type":"quantitative","scale":{"domain":[-107.75,107.75]},"axis":null},"y2":{"field":"b"}}},
{"data":{"name":"a"},"mark":{"type":"square","size":71,"opacity":1},"encoding":{"color":{"field":"v","type":"quantitative","scale":{"type":"log","domain":[2,150],"scheme":"inferno"},"legend":null}}},
{"data":{"name":"a2"},"mark":{"type":"square","size":18.5,"opacity":1},"encoding":{"color":{"field":"v","type":"quantitative","scale":{"type":"log","domain":[2,150],"scheme":"inferno"},"legend":null}}},
{"data":{"name":"outline"},"mark":{"type":"area","fill":"white","clip":true},"encoding":{"y":{"field":"t","type":"quantitative","scale":{"domain":[-107.75,107.75]},"axis":null},"y2":{"field":"u"}}},
{"data":{"name":"outline"},"mark":{"type":"area","fill":"white","clip":true},"encoding":{"y":{"field":"b","type":"quantitative","scale":{"domain":[-107.75,107.75]},"axis":null},"y2":{"field":"l"}}},
{"data":{"name":"grid"},"mark":{"type":"line","stroke":"white","strokeWidth":1,"interpolate":"cardinal"},"encoding":{"detail":{"field":"g"},"order":{"value":null}}},
{"data":{"name":"axes"},"mark":{"type":"line","stroke":"#eeeeee","strokeWidth":2},"encoding":{"detail":{"field":"g"},"order":{"value":null}}},
{"data":{"name":"labels"},"mark":{"type":"text","color":"white","fontSize":15,"font":"DejaVu Sans","align":"center","baseline":"middle"},"encoding":{"text":{"field":"t"}}},
{"data":{"values":[{"x":-214,"y":82,"t":"Slice: 1-2''"}]},"mark":{"type":"text","color":"black","fontSize":26.5,"font":"DejaVu Sans","align":"left","baseline":"alphabetic"},"encoding":{"text":{"field":"t"}}}
]},
{"width":443,"height":215.5,"view":{"stroke":"black","strokeWidth":2},"encoding":{"x":{"field":"x","type":"quantitative","scale":{"domain":[-221.5,221.5]},"axis":null},"y":{"field":"y","type":"quantitative","scale":{"domain":[-107.75,107.75]},"axis":null}},"layer":[
{"data":{"name":"outline"},"mark":{"type":"area","fill":"#000004"},"encoding":{"y":{"field":"t","type":"quantitative","scale":{"domain":[-107.75,107.75]},"axis":null},"y2":{"field":"b"}}},
{"data":{"name":"b"},"mark":{"type":"square","size":154,"opacity":1},"encoding":{"color":{"field":"v","type":"quantitative","scale":{"type":"log","domain":[2,150],"scheme":"inferno"},"legend":null}}},
{"data":{"name":"outline"},"mark":{"type":"area","fill":"white"},"encoding":{"y":{"field":"t","type":"quantitative","scale":{"domain":[-107.75,107.75]},"axis":null},"y2":{"field":"u"}}},
{"data":{"name":"outline"},"mark":{"type":"area","fill":"white"},"encoding":{"y":{"field":"b","type":"quantitative","scale":{"domain":[-107.75,107.75]},"axis":null},"y2":{"field":"l"}}},
{"data":{"name":"grid"},"mark":{"type":"line","stroke":"white","strokeWidth":1,"interpolate":"cardinal"},"encoding":{"detail":{"field":"g"},"order":{"value":null}}},
{"data":{"name":"axes"},"mark":{"type":"line","stroke":"#eeeeee","strokeWidth":2},"encoding":{"detail":{"field":"g"},"order":{"value":null}}},
{"data":{"name":"labels"},"mark":{"type":"text","color":"white","fontSize":15,"font":"DejaVu Sans","align":"center","baseline":"middle"},"encoding":{"text":{"field":"t"}}},
{"data":{"values":[{"x":-214,"y":82,"t":"Slice: 2-4''"}]},"mark":{"type":"text","color":"black","fontSize":26.5,"font":"DejaVu Sans","align":"left","baseline":"alphabetic"},"encoding":{"text":{"field":"t"}}}
]}
],"spacing":0,"bounds":"flush"},
{"hconcat":[
{"width":443,"height":215.5,"view":{"stroke":"black","strokeWidth":2},"encoding":{"x":{"field":"x","type":"quantitative","scale":{"domain":[-221.5,221.5]},"axis":null},"y":{"field":"y","type":"quantitative","scale":{"domain":[-107.75,107.75]},"axis":null}},"layer":[
{"data":{"name":"outline"},"mark":{"type":"area","fill":"#000004"},"encoding":{"y":{"field":"t","type":"quantitative","scale":{"domain":[-107.75,107.75]},"axis":null},"y2":{"field":"b"}}},
{"data":{"name":"c"},"mark":{"type":"square","size":154,"opacity":1},"encoding":{"color":{"field":"v","type":"quantitative","scale":{"type":"log","domain":[2,150],"scheme":"inferno"},"legend":null}}},
{"data":{"name":"outline"},"mark":{"type":"area","fill":"white"},"encoding":{"y":{"field":"t","type":"quantitative","scale":{"domain":[-107.75,107.75]},"axis":null},"y2":{"field":"u"}}},
{"data":{"name":"outline"},"mark":{"type":"area","fill":"white"},"encoding":{"y":{"field":"b","type":"quantitative","scale":{"domain":[-107.75,107.75]},"axis":null},"y2":{"field":"l"}}},
{"data":{"name":"grid"},"mark":{"type":"line","stroke":"white","strokeWidth":1,"interpolate":"cardinal"},"encoding":{"detail":{"field":"g"},"order":{"value":null}}},
{"data":{"name":"axes"},"mark":{"type":"line","stroke":"#eeeeee","strokeWidth":2},"encoding":{"detail":{"field":"g"},"order":{"value":null}}},
{"data":{"name":"labels"},"mark":{"type":"text","color":"white","fontSize":15,"font":"DejaVu Sans","align":"center","baseline":"middle"},"encoding":{"text":{"field":"t"}}},
{"data":{"values":[{"x":-214,"y":82,"t":"Slice: 4-8''"}]},"mark":{"type":"text","color":"black","fontSize":26.5,"font":"DejaVu Sans","align":"left","baseline":"alphabetic"},"encoding":{"text":{"field":"t"}}}
]},
{"width":443,"height":215.5,"view":{"stroke":"black","strokeWidth":2},"encoding":{"x":{"field":"x","type":"quantitative","scale":{"domain":[-221.5,221.5]},"axis":null},"y":{"field":"y","type":"quantitative","scale":{"domain":[-107.75,107.75]},"axis":null}},"layer":[
{"data":{"name":"outline"},"mark":{"type":"area","fill":"#000004"},"encoding":{"y":{"field":"t","type":"quantitative","scale":{"domain":[-107.75,107.75]},"axis":null},"y2":{"field":"b"}}},
{"data":{"name":"d"},"mark":{"type":"square","size":154,"opacity":1},"encoding":{"color":{"field":"v","type":"quantitative","scale":{"type":"log","domain":[2,150],"scheme":"inferno"},"legend":null}}},
{"data":{"name":"outline"},"mark":{"type":"area","fill":"white"},"encoding":{"y":{"field":"t","type":"quantitative","scale":{"domain":[-107.75,107.75]},"axis":null},"y2":{"field":"u"}}},
{"data":{"name":"outline"},"mark":{"type":"area","fill":"white"},"encoding":{"y":{"field":"b","type":"quantitative","scale":{"domain":[-107.75,107.75]},"axis":null},"y2":{"field":"l"}}},
{"data":{"name":"grid"},"mark":{"type":"line","stroke":"white","strokeWidth":1,"interpolate":"cardinal"},"encoding":{"detail":{"field":"g"},"order":{"value":null}}},
{"data":{"name":"axes"},"mark":{"type":"line","stroke":"#eeeeee","strokeWidth":2},"encoding":{"detail":{"field":"g"},"order":{"value":null}}},
{"data":{"name":"labels"},"mark":{"type":"text","color":"white","fontSize":15,"font":"DejaVu Sans","align":"center","baseline":"middle"},"encoding":{"text":{"field":"t"}}},
{"data":{"values":[{"x":-214,"y":82,"t":"Slice: 8-16''"}]},"mark":{"type":"text","color":"black","fontSize":26.5,"font":"DejaVu Sans","align":"left","baseline":"alphabetic"},"encoding":{"text":{"field":"t"}}}
]},
{"width":443,"height":215.5,"view":{"stroke":"black","strokeWidth":2},"encoding":{"x":{"field":"x","type":"quantitative","scale":{"domain":[-221.5,221.5]},"axis":null},"y":{"field":"y","type":"quantitative","scale":{"domain":[-107.75,107.75]},"axis":null}},"layer":[
{"data":{"name":"outline"},"mark":{"type":"area","fill":"#000004"},"encoding":{"y":{"field":"t","type":"quantitative","scale":{"domain":[-107.75,107.75]},"axis":null},"y2":{"field":"b"}}},
{"data":{"name":"e"},"mark":{"type":"square","size":154,"opacity":1},"encoding":{"color":{"field":"v","type":"quantitative","scale":{"type":"log","domain":[2,150],"scheme":"inferno"},"legend":null}}},
{"data":{"name":"outline"},"mark":{"type":"area","fill":"white"},"encoding":{"y":{"field":"t","type":"quantitative","scale":{"domain":[-107.75,107.75]},"axis":null},"y2":{"field":"u"}}},
{"data":{"name":"outline"},"mark":{"type":"area","fill":"white"},"encoding":{"y":{"field":"b","type":"quantitative","scale":{"domain":[-107.75,107.75]},"axis":null},"y2":{"field":"l"}}},
{"data":{"name":"grid"},"mark":{"type":"line","stroke":"white","strokeWidth":1,"interpolate":"cardinal"},"encoding":{"detail":{"field":"g"},"order":{"value":null}}},
{"data":{"name":"axes"},"mark":{"type":"line","stroke":"#eeeeee","strokeWidth":2},"encoding":{"detail":{"field":"g"},"order":{"value":null}}},
{"data":{"name":"labels"},"mark":{"type":"text","color":"white","fontSize":15,"font":"DejaVu Sans","align":"center","baseline":"middle"},"encoding":{"text":{"field":"t"}}},
{"data":{"values":[{"x":-214,"y":82,"t":"Slice: 16-32''"}]},"mark":{"type":"text","color":"black","fontSize":26.5,"font":"DejaVu Sans","align":"left","baseline":"alphabetic"},"encoding":{"text":{"field":"t"}}}
]}
],"spacing":0,"bounds":"flush"}
],"spacing":-3},
{"hconcat":[
{"width":128.4,"height":1,"data":{"values":[{"x":0}]},"mark":{"type":"point","opacity":0,"size":1,"filled":true},"encoding":{"x":{"field":"x","type":"quantitative","axis":null}}},
{"width":1030,"height":21,"layer":[
{"data":{"name":"bar"},"mark":{"type":"rect"},"encoding":{"x":{"field":"a","type":"quantitative","scale":{"type":"log","domain":[2,150]},"axis":{"values":[10,100],"format":"d","labelFontSize":25,"labelFont":"DejaVu Sans","labelColor":"black","ticks":false,"domain":false,"grid":false,"title":null,"labelPadding":1,"labelFlush":false}},"x2":{"field":"b"},"color":{"field":"a","type":"quantitative","scale":{"type":"log","domain":[2,150],"scheme":"inferno"},"legend":null},"stroke":{"field":"a","type":"quantitative","scale":{"type":"log","domain":[2,150],"scheme":"inferno"},"legend":null}}},
{"data":{"name":"ticks"},"mark":{"type":"rule","color":"#1a1a1a","strokeWidth":1.5},"encoding":{"x":{"field":"t","type":"quantitative","scale":{"type":"log","domain":[2,150]}},"y":{"field":"z","type":"quantitative","scale":{"domain":[0,1]},"axis":null},"y2":{"field":"l"}}},
{"data":{"values":[{"lo":2,"hi":150}]},"mark":{"type":"rect","fill":null,"stroke":"black","strokeWidth":2},"encoding":{"x":{"field":"lo","type":"quantitative","scale":{"type":"log","domain":[2,150]}},"x2":{"field":"hi"}}}
]}
],"spacing":0,"bounds":"flush"}
],"spacing":20.5}
